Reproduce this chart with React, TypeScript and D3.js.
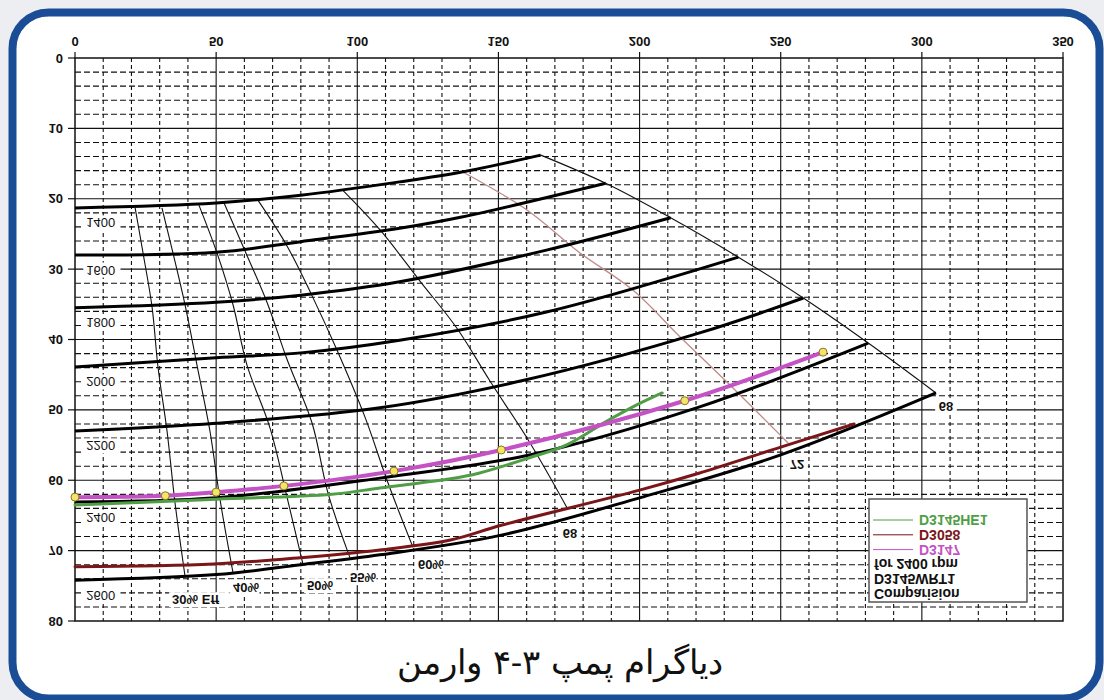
import React from 'react';
import * as d3 from 'd3';

type Pt = [number, number];

// axis ticks (flow m3/h across, head m down - the picture is mirrored top to bottom)
const flowTicks = [0, 50, 100, 150, 200, 250, 300, 350];
const headTicks = [0, 10, 20, 30, 40, 50, 60, 70, 80];

// pump speed curves [flow, head]
const speedLabels = ['1400', '1600', '1800', '2000', '2200', '2400', '2600'];
const speed1400: Pt[] = [[0, 21.3], [50, 20.6], [80, 19.5], [115, 17.6], [137, 16.2], [165, 13.8]];
const speed1600: Pt[] = [[0, 28.0], [50, 27.6], [80, 26.1], [115, 24.2], [137, 22.6], [188, 17.8]];
const speed1800: Pt[] = [[0, 35.5], [50, 34.7], [80, 33.7], [115, 31.8], [167, 27.3], [211, 22.7]];
const speed2000: Pt[] = [[0, 43.9], [50, 42.6], [80, 41.9], [115, 40.1], [167, 36.1], [235, 28.3]];
const speed2200: Pt[] = [[0, 53.0], [50, 51.9], [108, 49.7], [159, 45.8], [221, 39.1], [258, 34.1]];
const speed2400: Pt[] = [[0, 63.1], [50, 62.5], [108, 59.7], [161, 56.4], [221, 49.6], [281, 40.5]];
const speed2600: Pt[] = [[0, 74.2], [50, 73.4], [80, 72.0], [108, 70.6], [151, 67.8], [200, 62.5], [250, 56.4], [305, 47.6]];

// efficiency contours [flow, head]
const effLabels = ['30% Eff', '40%', '50%', '55%', '60%', '68', '72', '68'];
const eff30: Pt[] = [[21.3, 21.3], [24.1, 27.7], [27.3, 35.4], [29.4, 43.9], [32.6, 53.0], [35.4, 63.1], [39.0, 73.7]];
const eff40: Pt[] = [[30.8, 21.3], [34.7, 27.7], [39.0, 35.1], [43.2, 43.6], [47.8, 53.0], [51.4, 62.8], [56.0, 73.2]];
const eff50: Pt[] = [[43.9, 20.9], [50.3, 27.7], [56.0, 35.1], [60.9, 43.6], [69.1, 52.6], [75.1, 62.4], [80.8, 72.0]];
const eff55: Pt[] = [[52.8, 20.6], [60.2, 27.4], [68.0, 34.7], [75.1, 42.8], [84.0, 51.9], [89.6, 61.8], [97.4, 71.0]];
const eff60: Pt[] = [[64.8, 20.2], [75.1, 26.7], [84.0, 33.8], [92.8, 41.5], [102.7, 51.0], [110.9, 60.4], [119.7, 69.5]];
const eff68a: Pt[] = [[94.9, 18.8], [108.0, 24.4], [122.2, 31.7], [135.3, 38.4], [147.0, 45.9], [161.2, 54.7], [174.3, 63.9]];
const eff72: Pt[] = [[137.4, 16.2], [160.1, 21.6], [178.9, 27.7], [197.7, 33.0], [214.3, 39.6], [230.3, 45.8], [252.6, 54.7]];
const eff68b: Pt[] = [[165, 13.8], [188, 17.8], [211, 22.7], [235, 28.3], [258, 34.1], [281, 40.5], [305, 47.6]];

// impeller comparison at 2400 rpm [flow, head]
const legendNames = ['D3145HE1', 'D3058', 'D3147'];
const legendTitle = ['for 2400 rpm', 'D3145WRT1', 'Comparision'];
const seriesHE1: Pt[] = [[0, 63.5], [50, 62.7], [91, 62.0], [108, 61.1], [133, 59.8], [143, 59.0], [161, 56.8], [174, 55.0], [188, 51.7], [199, 49.3], [208, 47.6]];
const series3058: Pt[] = [[0, 72.3], [49, 71.9], [80, 71.0], [108, 69.9], [133, 68.5], [151, 66.4], [200, 61.4], [221, 59.0], [250, 55.3], [276, 52.0]];
const series3147: Pt[] = [[0, 62.4], [32, 62.2], [50, 61.7], [74, 60.8], [113, 58.7], [151, 55.7], [216, 48.7], [265, 41.8]];

const caption = 'دیاگرام پمپ ۳-۴ وارمن';

const W = 1104;
const H = 700;
const plot = { left: 75, right: 1063, top: 58, bottom: 621 };

const x = d3.scaleLinear().domain([0, 350]).range([plot.left, plot.right]);
const y = d3.scaleLinear().domain([0, 80]).range([plot.top, plot.bottom]);

const line = d3.line<Pt>()
  .x(d => x(d[0]))
  .y(d => y(d[1]))
  .curve(d3.curveCatmullRom.alpha(0.5));

// mirrored text, like the scanned picture
const FlipText: React.FC<{
  px: number; py: number; text: string; anchor?: 'start' | 'middle' | 'end';
  size?: number; weight?: string; fill?: string; bg?: boolean;
}> = ({ px, py, text, anchor = 'middle', size = 13, weight = 'bold', fill = '#111', bg = false }) => {
  const w = text.length * size * 0.6 + 6;
  const bx = anchor === 'start' ? px - 3 : anchor === 'end' ? px - w + 3 : px - w / 2;
  return (
    <g>
      {bg && <rect x={bx} y={py - size / 2 - 1} width={w} height={size + 2} fill="#fff" />}
      <text
        transform={`translate(${px},${py}) scale(1,-1)`}
        textAnchor={anchor}
        dominantBaseline="central"
        fontSize={size}
        fontWeight={weight}
        fill={fill}
      >
        {text}
      </text>
    </g>
  );
};

const speedCurves = [speed1400, speed1600, speed1800, speed2000, speed2200, speed2400, speed2600];
const effCurves = [eff30, eff40, eff50, eff55, eff60, eff68a, eff72, eff68b];
// label placement relative to the lower end of each contour (px)
const effLabelPlace: { dx: number; dy: number; anchor: 'start' | 'middle' }[] = [
  { dx: -13, dy: 23, anchor: 'start' },
  { dx: 0, dy: 14, anchor: 'start' },
  { dx: 4, dy: 21, anchor: 'start' },
  { dx: 0, dy: 20, anchor: 'start' },
  { dx: 5, dy: 17, anchor: 'start' },
  { dx: 3, dy: 26, anchor: 'middle' },
  { dx: 9, dy: 22, anchor: 'middle' },
  { dx: 10, dy: 14, anchor: 'middle' },
];

const series = [
  { data: seriesHE1, color: '#4f9e45', width: 3 },
  { data: series3058, color: '#7a1518', width: 3 },
  { data: series3147, color: '#c452c4', width: 4 },
];

export default function App() {
  const minorX = d3.range(10, 350, 10).filter(v => v % 50 !== 0);
  const majorX = flowTicks.slice(1, -1);
  const minorY = d3.range(2, 80, 2).filter(v => v % 10 !== 0);
  const majorY = headTicks.slice(1, -1);

  return (
    <svg
      width={W}
      height={H}
      style={{ position: 'absolute', left: 0, top: 0 }}
      fontFamily="'Liberation Sans', Arial, sans-serif"
    >
      <rect x={0} y={0} width={W} height={H} fill="#eceef2" />
      <rect x={12.5} y={12.5} width={1087} height={686} rx={36} fill="#fff" stroke="#1b4d97" strokeWidth={8} />

      {/* grid */}
      <g stroke="#111" strokeWidth={1.1}>
        {minorX.map(v => (
          <line key={'mx' + v} x1={x(v)} x2={x(v)} y1={plot.top} y2={plot.bottom} strokeDasharray="4,3" />
        ))}
        {minorY.map(v => (
          <line key={'my' + v} x1={plot.left} x2={plot.right} y1={y(v)} y2={y(v)} strokeDasharray="6,3" />
        ))}
        {majorX.map(v => (
          <line key={'Mx' + v} x1={x(v)} x2={x(v)} y1={plot.top} y2={plot.bottom} />
        ))}
        {majorY.map(v => (
          <line key={'My' + v} x1={plot.left} x2={plot.right} y1={y(v)} y2={y(v)} />
        ))}
      </g>
      <rect x={plot.left} y={plot.top} width={plot.right - plot.left} height={plot.bottom - plot.top} fill="none" stroke="#111" strokeWidth={1.5} />

      {/* ticks */}
      <g stroke="#111" strokeWidth={1.2}>
        {flowTicks.map(v => <line key={'tx' + v} x1={x(v)} x2={x(v)} y1={plot.top - 6} y2={plot.top} />)}
        {headTicks.map(v => <line key={'ty' + v} x1={plot.left - 7} x2={plot.left} y1={y(v)} y2={y(v)} />)}
      </g>
      {flowTicks.map(v => (
        <FlipText key={'lx' + v} px={x(v)} py={41} text={String(v)} />
      ))}
      {headTicks.map(v => (
        <FlipText key={'ly' + v} px={63} py={y(v)} text={String(v)} anchor="end" />
      ))}

      {/* efficiency contours */}
      {effCurves.map((c, i) => (
        <path key={'e' + i} d={line(c) || ''} fill="none"
          stroke={i === 6 ? '#c08a8a' : '#111'} strokeWidth={i === 6 ? 1.3 : 1.1} />
      ))}

      {/* speed curves */}
      {speedCurves.map((c, i) => (
        <path key={'s' + i} d={line(c) || ''} fill="none" stroke="#000" strokeWidth={3} />
      ))}

      {/* impeller series */}
      {series.map((s, i) => (
        <path key={'r' + i} d={line(s.data) || ''} fill="none" stroke={s.color} strokeWidth={s.width} strokeLinecap="round" />
      ))}
      {series3147.map((d, i) => (
        <circle key={'m' + i} cx={x(d[0])} cy={y(d[1])} r={4} fill="#f3e46a" stroke="#8a7420" strokeWidth={1} />
      ))}

      {/* labels */}
      {speedCurves.map((c, i) => (
        <FlipText key={'sl' + i} px={x(4)} py={y(c[0][1]) + 15} text={speedLabels[i]} anchor="start" weight="normal" bg />
      ))}
      {effCurves.map((c, i) => {
        const end = c[c.length - 1];
        const p = effLabelPlace[i];
        return (
          <FlipText key={'el' + i} px={x(end[0]) + p.dx} py={y(end[1]) + p.dy} text={effLabels[i]} anchor={p.anchor} bg />
        );
      })}

      {/* legend */}
      <g>
        <rect x={869} y={499} width={158} height={103} fill="#fff" stroke="#555" strokeWidth={1.5} />
        {legendNames.map((n, i) => (
          <g key={'lg' + i}>
            <line x1={873} x2={913} y1={520 + i * 14.8} y2={520 + i * 14.8} stroke={series[i].color} strokeWidth={1} />
            <FlipText px={919} py={520 + i * 14.8} text={n} anchor="start" size={14} fill={series[i].color} />
          </g>
        ))}
        {legendTitle.map((t, i) => (
          <FlipText key={'lt' + i} px={874} py={564.4 + i * 14.8} text={t} anchor="start" size={14} />
        ))}
      </g>

      <text x={560} y={662} textAnchor="middle" dominantBaseline="central" fontSize={34}
        direction="rtl" fontFamily="'DejaVu Serif', 'Liberation Serif', serif" fill="#111">
        {caption}
      </text>
    </svg>
  );
}
